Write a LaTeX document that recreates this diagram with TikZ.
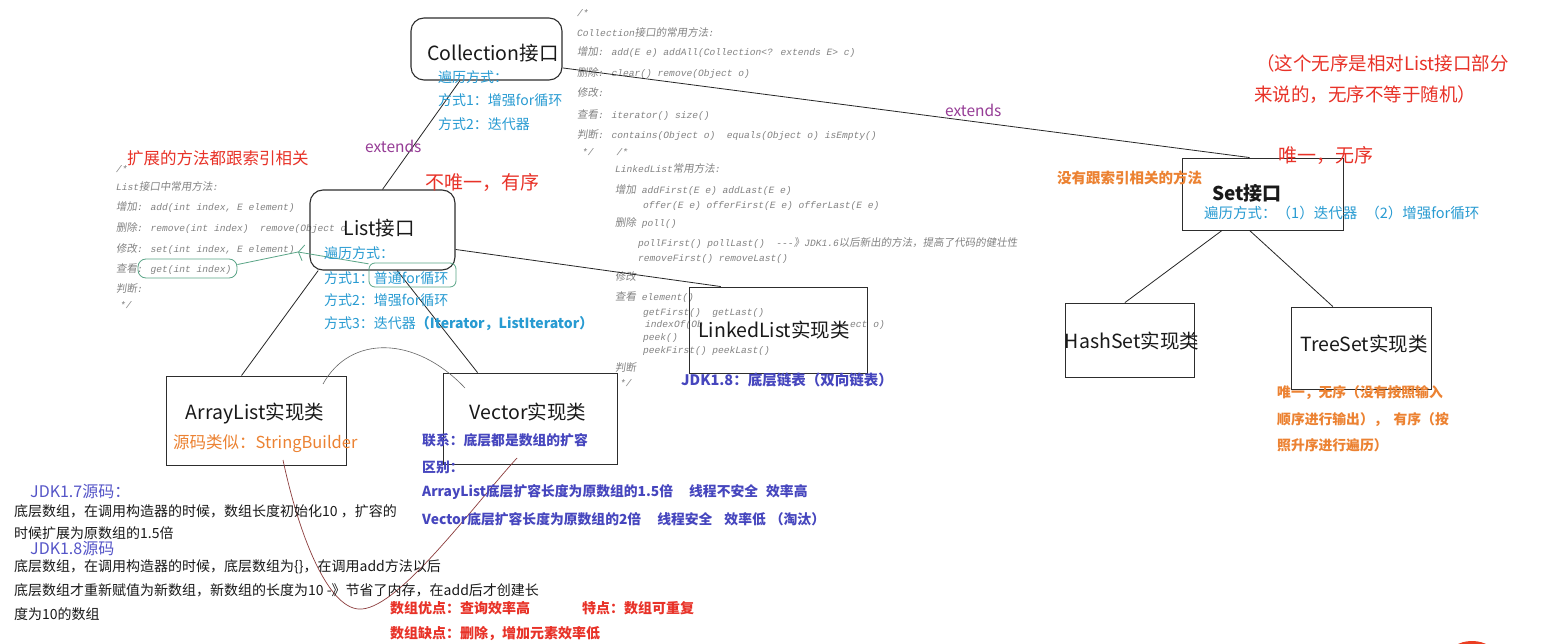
\documentclass[tikz,border=0pt]{standalone}
\usepackage{fontspec}
\setmainfont{Noto Sans CJK SC}
\newfontfamily\codefont{Liberation Mono}
\newfontfamily\cjkcode[FakeSlant=0.15]{Noto Sans CJK SC}
\newcommand\zhc[1]{{\cjkcode\fontsize{10.5}{12}\selectfont #1}}
\usetikzlibrary{calc,arrows.meta}
\definecolor{blueT}{RGB}{40,155,210}
\definecolor{purB}{RGB}{70,70,190}
\definecolor{jdkc}{RGB}{85,85,200}
\definecolor{redT}{RGB}{232,50,40}
\definecolor{oraT}{RGB}{236,130,50}
\definecolor{extc}{RGB}{150,60,150}
\definecolor{codec}{RGB}{130,130,130}
\definecolor{grn}{RGB}{90,165,135}
\definecolor{crv}{RGB}{140,60,60}
\definecolor{boxc}{RGB}{45,45,45}
\begin{document}
\begin{tikzpicture}[x=1pt,y=-1pt,
  txt/.style={inner sep=0pt, anchor=west},
  codetxt/.style={txt, text=codec, font=\codefont\itshape\fontsize{9.6}{11}\selectfont},
  blutxt/.style={txt, text=blueT, font=\fontsize{14}{16}\selectfont},
  purtxt/.style={txt, text=purB, font=\bfseries\fontsize{13.8}{16}\selectfont},
  redtxt/.style={txt, text=redT, font=\fontsize{19}{22}\selectfont},
  redbtxt/.style={txt, text=redT, font=\bfseries\fontsize{14}{16}\selectfont},
  oratxt/.style={txt, text=oraT, font=\bfseries\fontsize{13.8}{16}\selectfont},
  blktxt/.style={txt, text=black!90, font=\fontsize{14}{16}\selectfont},
  jdktxt/.style={txt, text=jdkc, font=\fontsize{16}{18}\selectfont},
  exttxt/.style={txt, text=extc, font=\fontsize{15.5}{18}\selectfont},
  boxlab/.style={inner sep=0pt, text=black!90, font=\fontsize{19.5}{22}\selectfont},
  rbox/.style={draw=boxc, line width=1.1pt, rounded corners=13pt, inner sep=0pt},
  sbox/.style={draw=boxc, line width=0.9pt, inner sep=0pt},
  conn/.style={draw=black!85, line width=0.8pt},
  gline/.style={draw=grn, line width=0.8pt}
]
\fill[white] (0,0) rectangle (1568,644);
\useasboundingbox (0,0) rectangle (1568,644);

% ---- code block: Collection
\node[codetxt] (c1a) at (577,13) {/*};
\node[codetxt] (c1b) at (577,33) {Collection\zhc{接口的常用方法}:};
\node[codetxt] (c1c) at (577,52) {\zhc{增加}: add(E e) addAll(Collection<? extends E> c)};
\node[codetxt] (c1d) at (577,73) {\zhc{删除}: clear() remove(Object o)};
\node[codetxt] (c1e) at (577,93) {\zhc{修改}:};
\node[codetxt] (c1f) at (577,115) {\zhc{查看}: iterator() size()};
\node[codetxt] (c1g) at (577,135) {\zhc{判断}: contains(Object o)\ \ equals(Object o) isEmpty()};
\node[codetxt] (c1h) at (582,152) {*/\hspace{23pt}/*};

% ---- code block: LinkedList
\node[codetxt] (c2a) at (615,169) {LinkedList\zhc{常用方法}:};
\node[codetxt] (c2b) at (615,190) {\zhc{增加} addFirst(E e) addLast(E e)};
\node[codetxt] (c2c) at (643,206) {offer(E e) offerFirst(E e) offerLast(E e)};
\node[codetxt] (c2d) at (615,223) {\zhc{删除} poll()};
\node[codetxt] (c2e) at (638,243) {pollFirst() pollLast()\ \ -\kern0pt-\kern0pt-\zhc{》}JDK1.6\zhc{以后新出的方法，提高了代码的健壮性}};
\node[codetxt] (c2f) at (638,259) {removeFirst() removeLast()};
\node[codetxt] (c2g) at (615,277) {\zhc{修改}};
\node[codetxt] (c2h) at (615,297) {\zhc{查看} element()};
\node[codetxt] (c2i) at (643,313) {getFirst()\ \ getLast()};
\node[codetxt] (c2j) at (645,325) {indexOf(Ob};
\node[codetxt] (c2j2) at (850,325) {ect o)};
\node[codetxt] (c2k) at (643,338) {peek()};
\node[codetxt] (c2l) at (643,351) {peekFirst() peekLast()};
\node[codetxt] (c2m) at (615,368) {\zhc{判断}};
\node[codetxt] (c2n) at (620,383) {*/};

% ---- code block: List
\node[codetxt] (c3a) at (116,169) {/*};
\node[codetxt] (c3b) at (116,187) {List\zhc{接口中常用方法}:};
\node[codetxt] (c3c) at (116,207) {\zhc{增加}: add(int index, E element)};
\node[codetxt] (c3d) at (116,228) {\zhc{删除}: remove(int index)\ \ remove(Object o};
\node[codetxt] (c3e) at (116,249) {\zhc{修改}: set(int index, E element)};
\node[codetxt] (c3f) at (116,269) {\zhc{查看}: get(int index)};
\node[codetxt] (c3g) at (116,289) {\zhc{判断}:};
\node[codetxt] (c3h) at (120,305) {*/};

% ---- boxes
\node[rbox, minimum width=151pt, minimum height=62pt] (coll) at (486.5,49) {};
\node[rbox, minimum width=145pt, minimum height=80pt] (list) at (382.5,230) {};
\node[sbox, minimum width=180pt, minimum height=89pt] (al) at (256,420.5) {};
\node[sbox, minimum width=174pt, minimum height=91pt] (vec) at (530,418.5) {};
\node[sbox, minimum width=178pt, minimum height=86pt] (ll) at (778,330) {};
\node[sbox, minimum width=161pt, minimum height=72pt] (set) at (1262.5,194) {};
\node[sbox, minimum width=129pt, minimum height=74pt] (hs) at (1129.5,340) {};
\node[sbox, minimum width=140pt, minimum height=82pt] (ts) at (1361,348) {};

% ---- connectors
\draw[conn] ($(coll.south west)!0.326!(coll.south east)$) -- (list.north);
\draw[conn] ($(coll.north east)!0.8!(coll.south east)$) -- ($(set.north west)!0.42!(set.north east)$);
\draw[conn] ($(list.south west)!0.06!(list.south east)$) -- ($(al.north west)!0.42!(al.north east)$);
\draw[conn] ($(list.south west)!0.6!(list.south east)$) -- ($(vec.north west)!0.2!(vec.north east)$);
\draw[conn] ($(list.north east)!0.74!(list.south east)$) -- ($(ll.north west)!0.18!(ll.north east)$);
\draw[conn] ($(set.south west)!0.25!(set.south east)$) -- ($(hs.north west)!0.465!(hs.north east)$);
\draw[conn] ($(set.south west)!0.42!(set.south east)$) -- ($(ts.north west)!0.3!(ts.north east)$);

% ---- box labels
\node[boxlab] (collL) at (493,53) {Collection接口};
\node[boxlab] (listL) at (379,228) {List接口};
\node[boxlab] (alL) at (255,414) {ArrayList实现类};
\node[boxlab] (vecL) at (528,412) {Vector实现类};
\node[boxlab] (llL) at (774,330) {LinkedList实现类};
\node[boxlab, font=\bfseries\fontsize{19}{22}\selectfont] (setL) at (1247,193) {Set接口};
\node[boxlab] (hsL) at (1132,341) {HashSet实现类};
\node[boxlab] (tsL) at (1364,344) {TreeSet实现类};

% ---- green marks
\node[gline, rounded corners=6pt, minimum width=87pt, minimum height=24pt, inner sep=0pt] (forbox) at (412.5,275) {};
\node[gline, rounded corners=8pt, minimum width=99pt, minimum height=19pt, inner sep=0pt] (getbox) at (187.5,268.5) {};
\coordinate (gmid) at (298,252);
\draw[gline] ($(getbox.north east)!0.3!(getbox.south east)$) -- (gmid);
\draw[gline, -{Straight Barb[length=5pt,width=16pt]}] ($(forbox.north west)!0.05!(forbox.south west)$) -- (gmid);

% ---- free-hand curves
\draw[black!60, line width=0.6pt] (323,384) .. controls (350,335) and (415,335) .. (465,388);
\draw[crv, line width=0.7pt] (283,460) .. controls (300,540) and (330,612) .. (362,609) .. controls (400,606) and (470,510) .. (517,458);

% ---- blue texts
\node[blutxt] (b1) at (438,77) {遍历方式：};
\node[blutxt] (b2) at (438,100) {方式1：增强for循环};
\node[blutxt] (b3) at (438,124) {方式2：迭代器};
\node[blutxt] (b4) at (324,253) {遍历方式：};
\node[blutxt] (b5) at (324,278) {方式1：普通for循环};
\node[blutxt] (b6) at (324,300) {方式2：增强for循环};
\node[blutxt] (b7) at (324,324) {方式3：迭代器{\bfseries（Iterator，ListIterator）}};
\node[blutxt, font=\fontsize{14.5}{16}\selectfont] (b8) at (1204,213) {遍历方式：（1）迭代器\hspace{8pt}（2）增强for循环};

% ---- extends
\node[exttxt] (e1) at (365,146) {extends};
\node[exttxt] (e2) at (945,110) {extends};

% ---- red texts
\node[redtxt] (r1) at (425,182) {不唯一，有序};
\node[redtxt] (r2) at (1278,155) {唯一，无序};
\node[redtxt, font=\fontsize{18.5}{21}\selectfont] (r3) at (1256,63) {（这个无序是相对List接口部分};
\node[redtxt, font=\fontsize{18.5}{21}\selectfont] (r4) at (1254,95) {来说的，无序不等于随机）};
\node[redtxt, font=\fontsize{16.5}{19}\selectfont] (r5) at (127,158) {扩展的方法都跟索引相关};

% ---- orange texts
\node[oratxt, font=\bfseries\fontsize{14.5}{16}\selectfont] (o1) at (1057,178) {没有跟索引相关的方法};
\node[oratxt] (o2) at (1277,393) {唯一，无序（没有按照输入};
\node[oratxt] (o3) at (1277,420) {顺序进行输出），\hspace{6pt}有序（按};
\node[oratxt] (o4) at (1277,445) {照升序进行遍历）};
\node[txt, text=oraT, font=\fontsize{16.5}{19}\selectfont] (o5) at (173,444) {源码类似：StringBuilder};

% ---- purple bold texts
\node[purtxt, font=\bfseries\fontsize{14.5}{16}\selectfont] (p1) at (681,380) {JDK1.8：底层链表（双向链表）};
\node[purtxt] (p2) at (422,440) {联系：底层都是数组的扩容};
\node[purtxt] (p3) at (422,467) {区别：};
\node[purtxt] (p4) at (422,492) {ArrayList底层扩容长度为原数组的1.5倍\hspace{16pt}线程不安全\hspace{8pt}效率高};
\node[purtxt] (p5) at (422,519) {Vector底层扩容长度为原数组的2倍\hspace{16pt}线程安全\hspace{12pt}效率低\hspace{4pt}（淘汰）};

% ---- JDK source notes
\node[jdktxt] (j1) at (30,492) {JDK1.7源码：};
\node[blktxt] (k1) at (14,511) {底层数组，在调用构造器的时候，数组长度初始化10 ，扩容的};
\node[blktxt] (k2) at (14,533) {时候扩展为原数组的1.5倍};
\node[jdktxt] (j2) at (30,549) {JDK1.8源码};
\node[blktxt] (k3) at (14,567) {底层数组，在调用构造器的时候，底层数组为\{\}，在调用add方法以后};
\node[blktxt] (k4) at (14,590) {底层数组才重新赋值为新数组，新数组的长度为10 -》节省了内存，在add后才创建长};
\node[blktxt] (k5) at (14,614) {度为10的数组};

% ---- red bold
\node[redbtxt] (rb1) at (390,608) {数组优点：查询效率高};
\node[redbtxt] (rb2) at (582,608) {特点：数组可重复};
\node[redbtxt] (rb3) at (390,633) {数组缺点：删除，增加元素效率低};

% ---- red blob at bottom edge
\fill[redT!85!orange] (1472,657) ellipse [x radius=24pt, y radius=16pt];
\end{tikzpicture}
\end{document}
